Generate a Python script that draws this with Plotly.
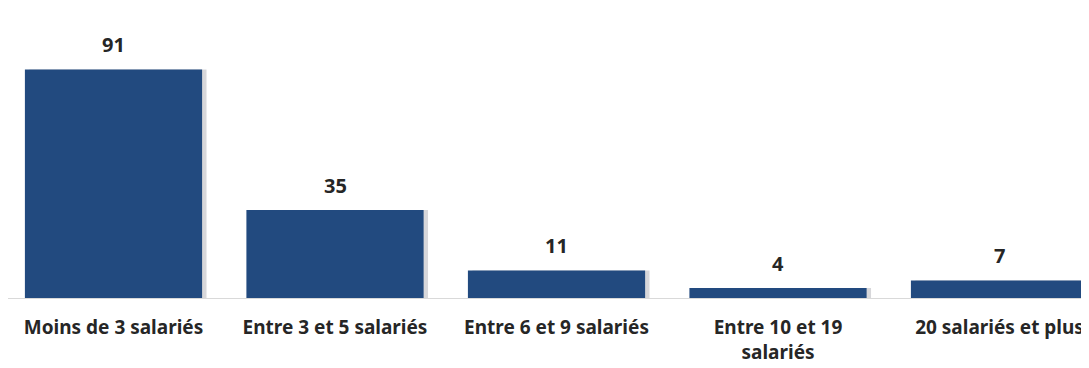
import plotly.graph_objects as go

categories = ["Moins de 3 salariés", "Entre 3 et 5 salariés", "Entre 6 et 9 salariés",
              "Entre 10 et 19<br>salariés", "20 salariés et plus"]
values = [91, 35, 11, 4, 7]
value_labels = ["91", "35", "11", "4", "7"]

xs = list(range(len(categories)))
fig = go.Figure()
# soft shadow on the right of each bar
fig.add_trace(go.Bar(
    x=xs, y=values, width=0.8, offset=-0.4 + 0.02,
    marker=dict(color="rgba(140,140,150,0.35)", line=dict(width=0)),
    showlegend=False, hoverinfo="skip",
))
fig.add_trace(go.Bar(
    x=xs, y=values, width=0.8, offset=-0.4,
    marker=dict(color="#224a7f", line=dict(width=0)),
    showlegend=False, hoverinfo="skip",
))
for i, (v, t) in enumerate(zip(values, value_labels)):
    fig.add_annotation(x=i, y=v, text="<b>%s</b>" % t, showarrow=False,
                       yanchor="bottom", yshift=9,
                       font=dict(family="Noto Sans", size=20, color="#262626"))

fig.update_layout(
    width=1081, height=360, barmode="overlay",
    margin=dict(l=0, r=0, t=12, b=70, autoexpand=False),
    paper_bgcolor="white", plot_bgcolor="white",
    xaxis=dict(
        range=[-0.4763, 4.404], automargin=False,
        tickmode="array", tickvals=xs,
        ticktext=["<b>%s</b>" % c for c in categories],
        showline=True, linecolor="#d9d9d9", linewidth=1,
        showgrid=False, zeroline=False, ticks="", ticklabelstandoff=12,
        tickfont=dict(family="Noto Sans", size=19, color="#262626"),
    ),
    yaxis=dict(range=[0, 110.7], visible=False, showgrid=False, zeroline=False,
               automargin=False),
)
fig.write_html("out.html")
